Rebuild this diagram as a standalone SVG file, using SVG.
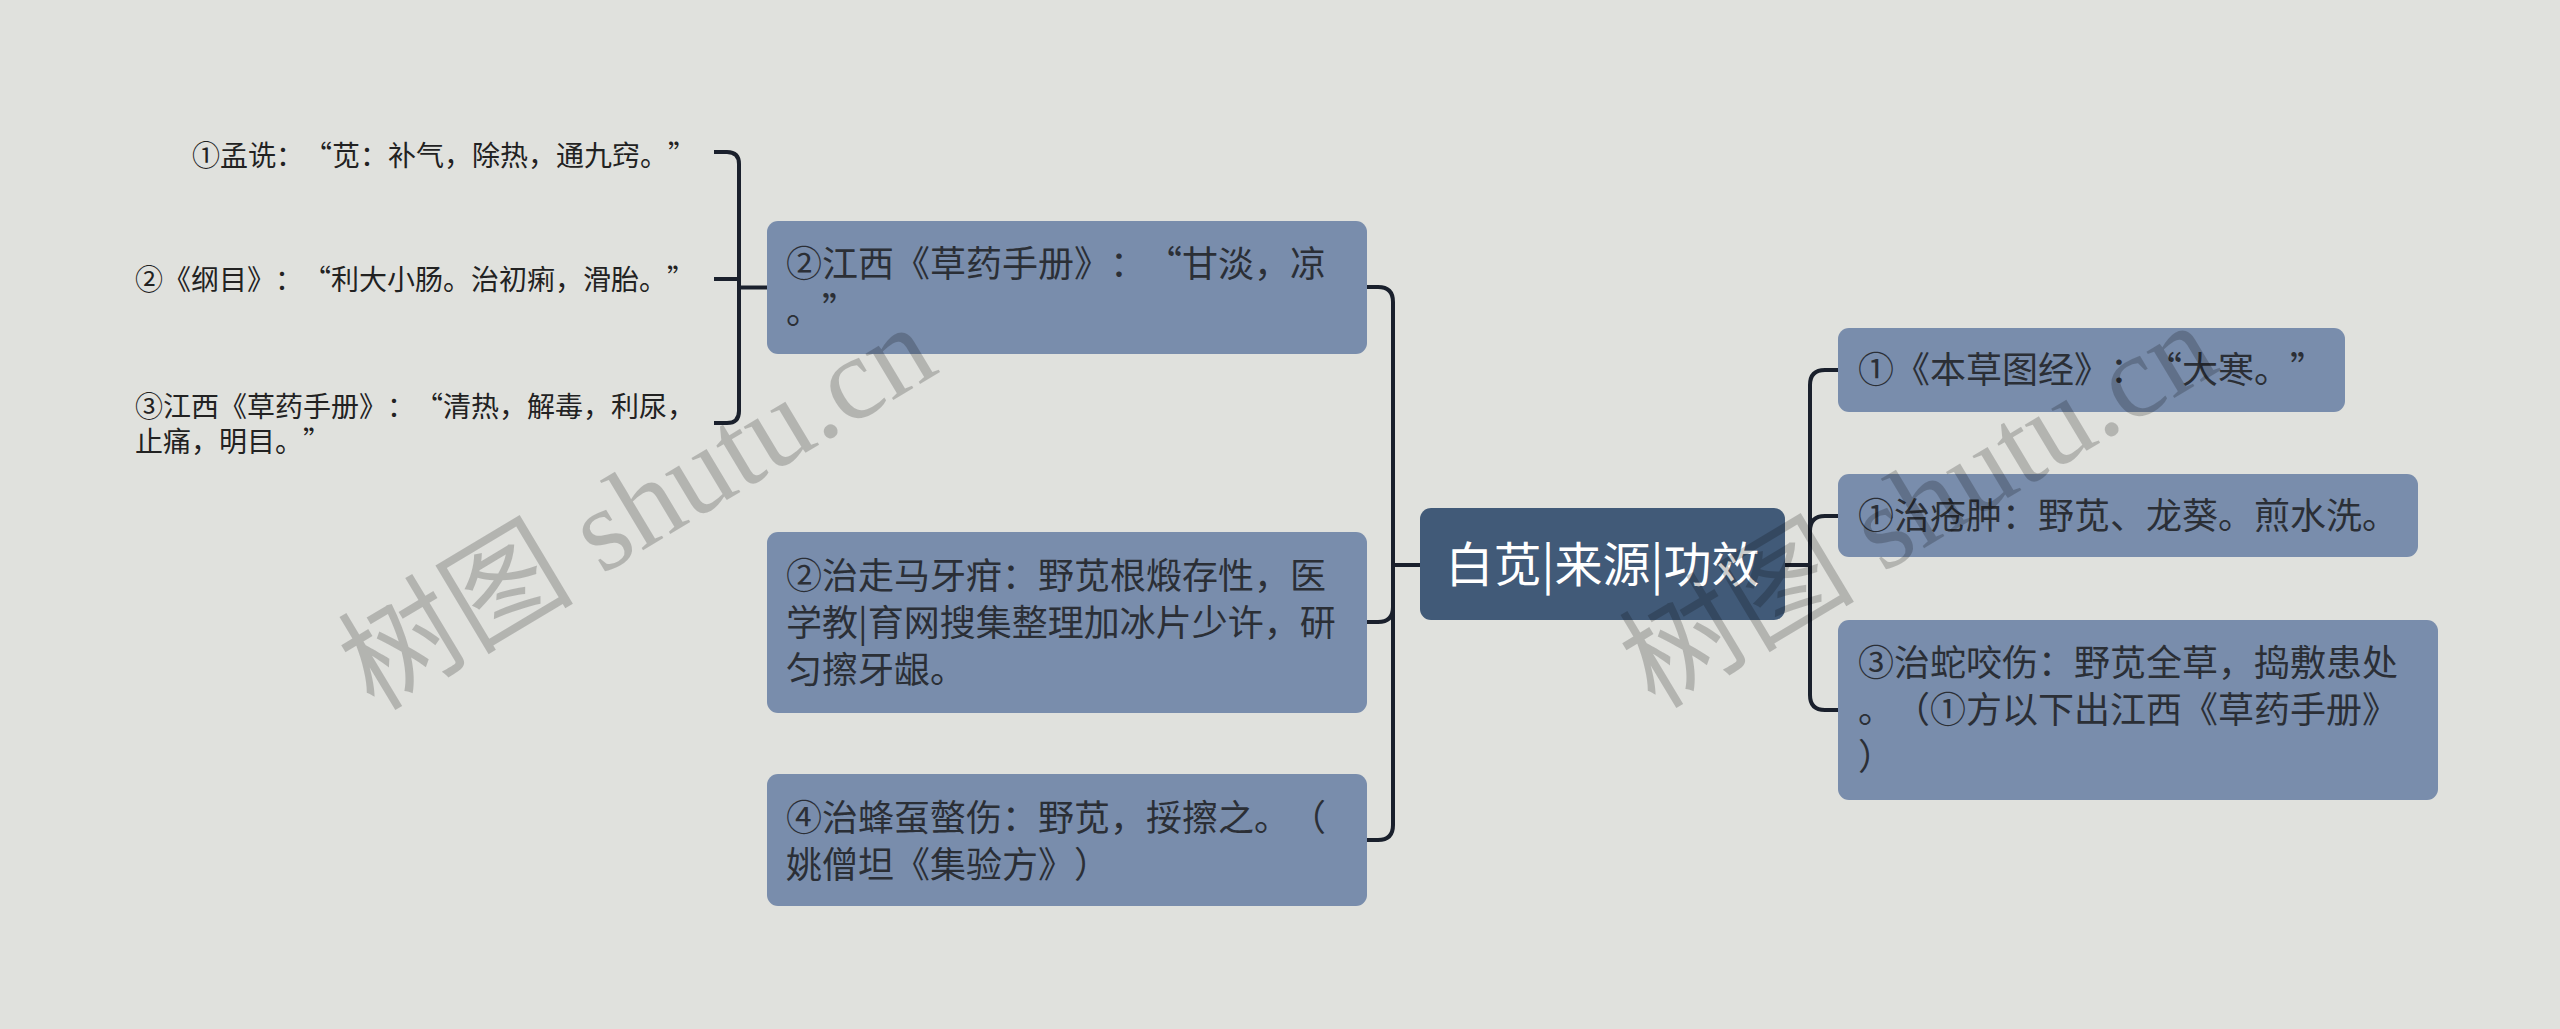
<svg xmlns="http://www.w3.org/2000/svg" width="2560" height="1029" viewBox="0 0 2560 1029">
<style>
.bg{fill:#e0e1dd}
.node{fill:#798dac}
.root{fill:#415a78}
text{text-spacing-trim:space-all}
.q{font-feature-settings:"fwid" 1;font-variant-east-asian:full-width}
.t{font-family:"Noto Sans CJK SC","Noto Sans",sans-serif;font-size:36px;fill:#2b2f36}
.rt{font-family:"Noto Sans CJK SC","Noto Sans",sans-serif;font-size:48px;fill:#ffffff}
.st{font-family:"Noto Sans CJK SC","Noto Sans",sans-serif;font-size:28px;fill:#222222}
.c{fill:none;stroke:#1a202c;stroke-width:4;stroke-linecap:butt}
.wm{font-family:"Liberation Serif","Noto Sans CJK SC",serif;font-size:118px;fill:#000;fill-opacity:0.2}
</style>
<rect class="bg" x="0" y="0" width="2560" height="1029"/>
<g id="connectors">
<path class="c" d="M714,152 H727 Q739,152 739,164 V411 Q739,423 727,423 H714"/>
<path class="c" d="M714,279 H739"/>
<path class="c" d="M739,287.5 H767"/>
<path class="c" d="M1420,565 H1393 V302 Q1393,287 1378,287 H1367"/>
<path class="c" d="M1393,565 V607 Q1393,622 1378,622 H1367"/>
<path class="c" d="M1393,565 V825 Q1393,840 1378,840 H1367"/>
<path class="c" d="M1785,565 H1810"/>
<path class="c" d="M1810,565 V385 Q1810,370 1825,370 H1838"/>
<path class="c" d="M1810,565 V531 Q1810,516 1825,516 H1838"/>
<path class="c" d="M1810,565 V695 Q1810,710 1825,710 H1838"/>
</g>
<g id="root">
<rect class="root" x="1420" y="508" width="365" height="112" rx="11"/>
<text class="rt" x="1602.5" y="582" text-anchor="middle">白苋|来源|功效</text>
</g>
<g id="nodeA">
<rect class="node" x="767" y="221" width="600" height="133" rx="11"/>
<text class="t" x="786" y="277">②江西《草药手册》：<tspan class="q">“</tspan>甘淡，凉</text>
<text class="t" x="786" y="324">。<tspan class="q">”</tspan></text>
</g>
<g id="nodeB">
<rect class="node" x="767" y="532" width="600" height="181" rx="11"/>
<text class="t" x="786" y="589">②治走马牙疳：野苋根煅存性，医</text>
<text class="t" x="786" y="636">学教|育网搜集整理加冰片少许，研</text>
<text class="t" x="786" y="683">匀擦牙龈。</text>
</g>
<g id="nodeC">
<rect class="node" x="767" y="774" width="600" height="132" rx="11"/>
<text class="t" x="786" y="831">④治蜂虿螫伤：野苋，挼擦之。（</text>
<text class="t" x="786" y="878">姚僧坦《集验方》）</text>
</g>
<g id="sub1">
<text class="st" x="192" y="166">①孟诜：<tspan class="q">“</tspan>苋：补气，除热，通九窍。<tspan class="q">”</tspan></text>
</g>
<g id="sub2">
<text class="st" x="135" y="290">②《纲目》：<tspan class="q">“</tspan>利大小肠。治初痢，滑胎。<tspan class="q">”</tspan></text>
</g>
<g id="sub3">
<text class="st" x="135" y="417">③江西《草药手册》：<tspan class="q">“</tspan>清热，解毒，利尿，</text>
<text class="st" x="135" y="452">止痛，明目。<tspan class="q">”</tspan></text>
</g>
<g id="node1">
<rect class="node" x="1838" y="328" width="507" height="84" rx="11"/>
<text class="t" x="1858" y="383">①《本草图经》：<tspan class="q">“</tspan>大寒。<tspan class="q">”</tspan></text>
</g>
<g id="node2">
<rect class="node" x="1838" y="474" width="580" height="83" rx="11"/>
<text class="t" x="1858" y="529">①治疮肿：野苋、龙葵。煎水洗。</text>
</g>
<g id="node3">
<rect class="node" x="1838" y="620" width="600" height="180" rx="11"/>
<text class="t" x="1858" y="676">③治蛇咬伤：野苋全草，捣敷患处</text>
<text class="t" x="1858" y="723">。（①方以下出江西《草药手册》</text>
<text class="t" x="1858" y="770">）</text>
</g>
<g id="watermarks">
<text class="wm" transform="translate(374,712) rotate(-31)">树图 shutu.cn</text>
<text class="wm" transform="translate(1655,710) rotate(-31)">树图 shutu.cn</text>
</g>
</svg>
